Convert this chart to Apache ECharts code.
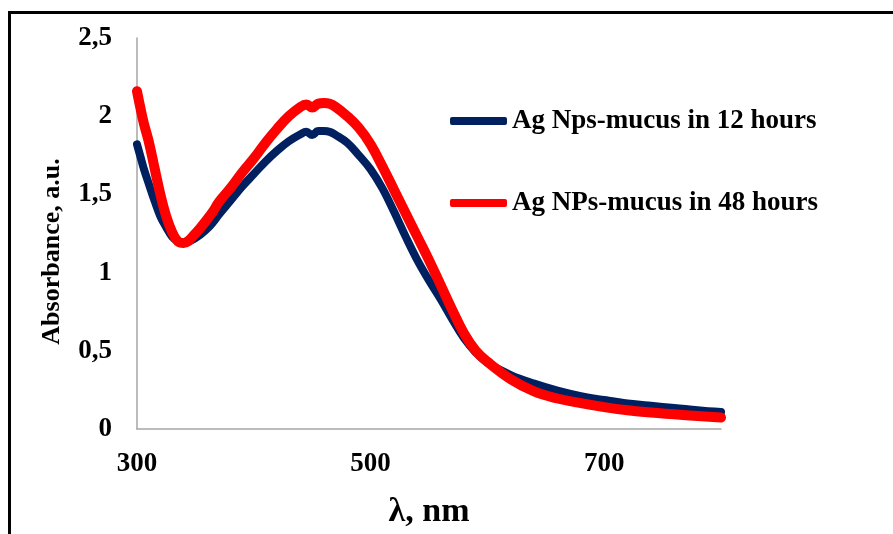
<!DOCTYPE html>
<html>
<head>
<meta charset="utf-8">
<script src="https://cdn.jsdelivr.net/npm/echarts@6/dist/echarts.min.js"></script>
<style>
  html, body { margin: 0; padding: 0; background: #fff; }
  #chart { width: 893px; height: 534px; }
</style>
</head>
<body>
<div id="chart"></div>
<script>
// 波长 (nm)
var wavelengths = [300, 303, 306, 310, 315, 320, 325, 330, 335, 340, 350, 360, 365, 370, 380, 390, 400, 410, 420, 430, 440, 445, 450, 455, 460, 465, 470, 480, 490, 500, 510, 520, 530, 540, 550, 560, 570, 580, 590, 600, 620, 640, 660, 680, 700, 720, 740, 760, 780, 800];
// 12 hours
var abs12 = [1.82, 1.74, 1.66, 1.57, 1.46, 1.36, 1.29, 1.23, 1.20, 1.19, 1.22, 1.28, 1.32, 1.37, 1.46, 1.55, 1.63, 1.71, 1.78, 1.84, 1.885, 1.90, 1.88, 1.905, 1.905, 1.90, 1.88, 1.83, 1.75, 1.66, 1.54, 1.39, 1.23, 1.08, 0.95, 0.83, 0.70, 0.58, 0.49, 0.425, 0.345, 0.29, 0.245, 0.21, 0.185, 0.163, 0.148, 0.135, 0.12, 0.108];
// 48 hours
var abs48 = [2.16, 2.05, 1.95, 1.84, 1.67, 1.50, 1.36, 1.26, 1.20, 1.19, 1.25, 1.34, 1.39, 1.45, 1.54, 1.64, 1.73, 1.83, 1.92, 2.00, 2.06, 2.075, 2.055, 2.08, 2.085, 2.08, 2.06, 2.00, 1.925, 1.82, 1.68, 1.53, 1.38, 1.23, 1.08, 0.92, 0.76, 0.61, 0.50, 0.43, 0.318, 0.24, 0.195, 0.165, 0.14, 0.12, 0.105, 0.094, 0.083, 0.073];

var xTicks = [300, 500, 700];
var yTicks = [0, 0.5, 1, 1.5, 2, 2.5];

function pairs(ys) {
  return wavelengths.map(function (x, i) { return [x, ys[i]]; });
}

var font = '"Liberation Serif", "DejaVu Serif", serif';

var chart = echarts.init(document.getElementById('chart'), null, { renderer: 'canvas' });

var option = {
  animation: false,
  backgroundColor: '#fff',
  grid: {
    left: 137,
    right: 172,
    top: 38,
    bottom: 87,
    containLabel: false
  },
  legend: {
    orient: 'vertical',
    left: 450,
    top: 106,
    padding: 0,
    itemWidth: 57,
    itemHeight: 8,
    itemGap: 52,
    icon: 'roundRect',
    data: [
      { name: 'Ag Nps-mucus in 12 hours', itemStyle: { color: '#002060' } },
      { name: 'Ag NPs-mucus in 48 hours', itemStyle: { color: '#ff0000' } }
    ],
    textStyle: {
      fontFamily: font,
      fontWeight: 'bold',
      fontSize: 27,
      lineHeight: 30,
      color: '#000'
    }
  },
  xAxis: {
    type: 'value',
    min: xTicks[0],
    max: 800,
    interval: xTicks[1] - xTicks[0],
    name: 'λ, nm',
    nameLocation: 'middle',
    nameGap: 66,
    nameTextStyle: {
      fontFamily: font,
      fontWeight: 'bold',
      fontSize: 34,
      color: '#000'
    },
    axisLine: { lineStyle: { color: '#a6a6a6', width: 1.5 } },
    axisTick: { show: false },
    splitLine: { show: false },
    axisLabel: {
      showMaxLabel: false,
      margin: 22,
      fontFamily: font,
      fontWeight: 'bold',
      fontSize: 27,
      color: '#000'
    }
  },
  yAxis: {
    type: 'value',
    min: yTicks[0],
    max: yTicks[yTicks.length - 1],
    interval: yTicks[1] - yTicks[0],
    name: 'Absorbance, a.u.',
    nameLocation: 'middle',
    nameGap: 72,
    nameRotate: 90,
    nameTextStyle: {
      fontFamily: font,
      fontWeight: 'bold',
      fontSize: 26,
      color: '#000',
      padding: [0, 36, 0, 0]
    },
    axisLine: { show: true, lineStyle: { color: '#a6a6a6', width: 1.5 } },
    axisTick: { show: false },
    splitLine: { show: false },
    axisLabel: {
      margin: 25,
      fontFamily: font,
      fontWeight: 'bold',
      fontSize: 27,
      color: '#000',
      formatter: function (v) { return String(v).replace('.', ','); }
    }
  },
  // 外框
  graphic: [{
    type: 'rect',
    shape: { x: 9.5, y: 12.5, width: 920, height: 560 },
    style: { fill: 'none', stroke: '#000', lineWidth: 3 },
    silent: true
  }],
  series: [
    {
      name: 'Ag Nps-mucus in 12 hours',
      type: 'line',
      data: pairs(abs12),
      smooth: 0.4,
      showSymbol: false,
      symbol: 'none',
      lineStyle: { width: 8, color: '#002060', cap: 'round', join: 'round' },
      itemStyle: { color: '#002060' }
    },
    {
      name: 'Ag NPs-mucus in 48 hours',
      type: 'line',
      data: pairs(abs48),
      smooth: 0.4,
      showSymbol: false,
      symbol: 'none',
      lineStyle: { width: 10, color: '#ff0000', cap: 'round', join: 'round' },
      itemStyle: { color: '#ff0000' }
    }
  ]
};

chart.setOption(option);
</script>
</body>
</html>
